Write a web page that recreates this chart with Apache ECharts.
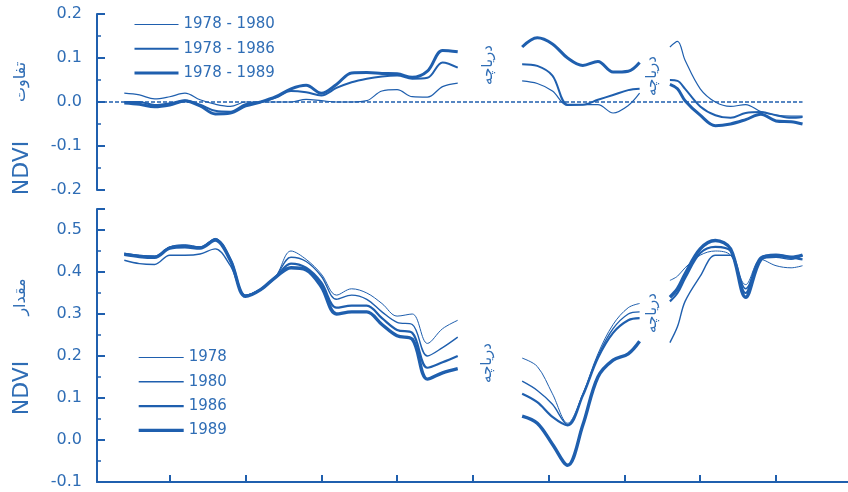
<!DOCTYPE html>
<html>
<head>
<meta charset="utf-8">
<script src="https://cdn.jsdelivr.net/npm/echarts@6/dist/echarts.min.js"></script>
<style>
  html, body { margin: 0; padding: 0; background: #ffffff; }
  #chart { width: 848px; height: 492px; }
</style>
</head>
<body>
<div id="chart"></div>
<script>
// Distance along the transect; null rows at 52 and 74 break the lines across the lakes.
const distance = [
  4, 6, 8, 10, 12, 14, 16, 18, 20, 22, 24, 26, 28, 30, 32, 34, 36, 38, 40, 42, 44, 46, 48,
  52,
  56.5, 58.5, 60.5, 62.5, 64.5, 66.5, 68.5, 70.5, 72,
  74,
  76, 77, 78, 80, 82, 84, 86, 88, 90, 92, 93.5
];

// NDVI difference (upper panel)
const diff1978_1980 = [
  0.02, 0.016, 0.007, 0.012, 0.02, 0.005, -0.005, -0.01, 0.0, 0.0, 0.0, 0.0, 0.006, 0.003, 0.0, 0.0, 0.003, 0.025, 0.028, 0.012, 0.011, 0.035, 0.043,
  null,
  0.048, 0.042, 0.025, -0.008, -0.006, -0.006, -0.025, -0.008, 0.02,
  null,
  0.125, 0.138, 0.095, 0.03, 0.0, -0.01, -0.006, -0.022, -0.03, -0.032, -0.032
];
const diff1978_1986 = [
  0.0, 0.0, -0.007, -0.003, 0.004, -0.006, -0.02, -0.022, -0.005, 0.0, 0.01, 0.025, 0.022, 0.015, 0.032, 0.045, 0.053, 0.058, 0.06, 0.053, 0.055, 0.09, 0.078,
  null,
  0.086, 0.082, 0.06, -0.006, -0.006, 0.005, 0.016, 0.027, 0.03,
  null,
  0.05, 0.048, 0.03, -0.01, -0.03, -0.036, -0.025, -0.023, -0.03, -0.036, -0.034
];
const diff1978_1989 = [
  -0.002, -0.005, -0.011, -0.007, 0.002, -0.009, -0.027, -0.025, -0.009, 0.0, 0.012, 0.03, 0.038, 0.02, 0.04, 0.066, 0.067, 0.065, 0.064, 0.056, 0.07, 0.117, 0.114,
  null,
  0.125, 0.146, 0.132, 0.1, 0.083, 0.092, 0.068, 0.07, 0.09,
  null,
  0.04, 0.03, 0.003, -0.03, -0.054, -0.05, -0.04, -0.028, -0.043, -0.045, -0.05
];

// NDVI value (lower panel)
const ndvi1978 = [
  0.445, 0.44, 0.438, 0.46, 0.465, 0.46, 0.48, 0.43, 0.345, 0.36, 0.39, 0.45, 0.43, 0.395, 0.345, 0.36, 0.35, 0.325, 0.295, 0.3, 0.23, 0.265, 0.285,
  null,
  0.195, 0.175, 0.11, 0.04, 0.11, 0.205, 0.275, 0.315, 0.325,
  null,
  0.38, 0.39, 0.41, 0.44, 0.45, 0.44, 0.37, 0.43, 0.415, 0.41, 0.415
];
const ndvi1980 = [
  0.428, 0.42, 0.418, 0.44, 0.44, 0.443, 0.455, 0.415, 0.345, 0.36, 0.39, 0.435, 0.425, 0.39, 0.335, 0.345, 0.335, 0.305, 0.28, 0.275, 0.2, 0.22, 0.245,
  null,
  0.14, 0.118, 0.085, 0.037, 0.108, 0.2, 0.265, 0.3, 0.305,
  null,
  0.232, 0.27, 0.33, 0.39, 0.44, 0.44, 0.36, 0.43, 0.435, 0.43, 0.44
];
const ndvi1986 = [
  0.443, 0.438, 0.436, 0.458, 0.462, 0.458, 0.478, 0.43, 0.343, 0.358, 0.388, 0.42, 0.41, 0.375, 0.315, 0.32, 0.32, 0.29, 0.262, 0.255, 0.172, 0.185, 0.2,
  null,
  0.11, 0.09, 0.055, 0.035, 0.105, 0.195, 0.255, 0.285, 0.29,
  null,
  0.33, 0.35, 0.385, 0.445, 0.46, 0.45, 0.35, 0.435, 0.44, 0.435, 0.43
];
const ndvi1989 = [
  0.442, 0.437, 0.435, 0.457, 0.46, 0.457, 0.476, 0.428, 0.342, 0.358, 0.388, 0.41, 0.405, 0.365, 0.3, 0.305, 0.305, 0.275, 0.248, 0.24, 0.145, 0.16, 0.17,
  null,
  0.057, 0.04, -0.01, -0.06, 0.035, 0.15, 0.19, 0.205, 0.235,
  null,
  0.34, 0.36, 0.395, 0.455, 0.475, 0.455, 0.34, 0.43, 0.44, 0.435, 0.44
];

const xTicks = [10, 20, 30, 40, 50, 60, 70, 80, 90];

const LINE = '#1f5fae';
const TEXT = '#2f6db5';
const LATIN = '"DejaVu Sans", Arial, sans-serif';
const PERSIAN = '"DejaVu Sans", sans-serif';

const pairs = (ys) => distance.map((x, i) => [x, ys[i]]);

const upperSeries = [
  { name: '1978 - 1980', data: diff1978_1980, width: 1.2 },
  { name: '1978 - 1986', data: diff1978_1986, width: 2.0 },
  { name: '1978 - 1989', data: diff1978_1989, width: 3.0 }
];
const lowerSeries = [
  { name: '1978', data: ndvi1978, width: 1.0 },
  { name: '1980', data: ndvi1980, width: 1.4 },
  { name: '1986', data: ndvi1986, width: 2.2 },
  { name: '1989', data: ndvi1989, width: 3.4 }
];

function lineSeries(s, axis) {
  return {
    type: 'line',
    name: s.name,
    xAxisIndex: axis,
    yAxisIndex: axis,
    data: pairs(s.data),
    symbol: 'none',
    showSymbol: false,
    smooth: 0.35,
    connectNulls: false,
    lineStyle: { color: LINE, width: s.width },
    itemStyle: { color: LINE },
    silent: true
  };
}

const series = upperSeries.map(s => lineSeries(s, 0)).concat(lowerSeries.map(s => lineSeries(s, 1)));

// dotted zero reference in the difference panel
series[0].markLine = {
  silent: true,
  symbol: 'none',
  label: { show: false },
  lineStyle: { color: LINE, type: [4, 2], width: 1.5 },
  data: [[{ coord: [0.4, 0] }, { coord: [distance[distance.length - 1], 0] }]]
};

function yAxisFor(grid, min, max) {
  return {
    type: 'value',
    gridIndex: grid,
    min: min,
    max: max,
    interval: 0.1,
    axisLine: { show: true, onZero: false, lineStyle: { color: LINE, width: 2 } },
    axisTick: { show: true, inside: true, length: 8, lineStyle: { color: LINE, width: 2 } },
    minorTick: { show: true, splitNumber: 2, length: 4, lineStyle: { color: LINE, width: 1.5 } },
    splitLine: { show: false },
    minorSplitLine: { show: false },
    axisLabel: {
      color: TEXT,
      fontFamily: LATIN,
      fontSize: 16,
      margin: 15,
      formatter: (v) => Math.abs(v * 10 - Math.round(v * 10)) < 1e-6 ? v.toFixed(1) : ''
    }
  };
}

function verticalText(text, x, y, font, size, rot) {
  return {
    type: 'text',
    x: x,
    y: y,
    rotation: rot,
    silent: true,
    style: {
      text: text,
      fontFamily: font,
      fontSize: size,
      fill: TEXT,
      align: 'center',
      verticalAlign: 'middle',
      textAlign: 'center',
      textVerticalAlign: 'middle'
    }
  };
}

// legend swatches: plain lines of each series' width, no point marker
const legendItem = (s) => ({
  name: s.name,
  lineStyle: { width: s.width, color: LINE },
  itemStyle: { opacity: 0, color: 'transparent', borderWidth: 0 }
});

const option = {
  animation: false,
  backgroundColor: '#ffffff',
  grid: [
    { left: 97, top: 14, width: 751, height: 176 },
    { left: 97, top: 209, width: 751, height: 273 }
  ],
  xAxis: [
    { type: 'value', gridIndex: 0, min: 0.4, max: 99.5, show: false },
    {
      type: 'value', gridIndex: 1, min: 0.4, max: 99.5, interval: 10,
      axisLine: { show: true, onZero: false, lineStyle: { color: LINE, width: 2 } },
      axisTick: { show: true, inside: true, length: 7, customValues: xTicks, lineStyle: { color: LINE, width: 2 } },
      axisLabel: { show: false },
      splitLine: { show: false }
    }
  ],
  yAxis: [yAxisFor(0, -0.2, 0.2), yAxisFor(1, -0.1, 0.55)],
  legend: [
    {
      orient: 'vertical', left: 128, top: 12, itemWidth: 44, itemHeight: 14, itemGap: 9.3,
      textStyle: { color: TEXT, fontFamily: LATIN, fontSize: 15 },
      data: upperSeries.map(legendItem)
    },
    {
      orient: 'vertical', left: 132, top: 345, itemWidth: 45, itemHeight: 14, itemGap: 9.3,
      textStyle: { color: TEXT, fontFamily: LATIN, fontSize: 15 },
      data: lowerSeries.map(legendItem)
    }
  ],
  graphic: [
    verticalText('NDVI', 22, 168, LATIN, 22, Math.PI / 2),
    verticalText('تفاوت', 21, 82, PERSIAN, 16, Math.PI / 2),
    verticalText('NDVI', 22, 388, LATIN, 22, Math.PI / 2),
    verticalText('مقدار', 21, 297, PERSIAN, 16, Math.PI / 2),
    verticalText('دریاچه', 488, 65, PERSIAN, 15, Math.PI / 2),
    verticalText('دریاچه', 652, 76, PERSIAN, 15, Math.PI / 2),
    verticalText('دریاچه', 487, 363, PERSIAN, 15, Math.PI / 2),
    verticalText('دریاچه', 652, 313, PERSIAN, 15, Math.PI / 2)
  ],
  series: series
};

const chart = echarts.init(document.getElementById('chart'), null, { renderer: 'canvas' });
chart.setOption(option);
</script>
</body>
</html>
